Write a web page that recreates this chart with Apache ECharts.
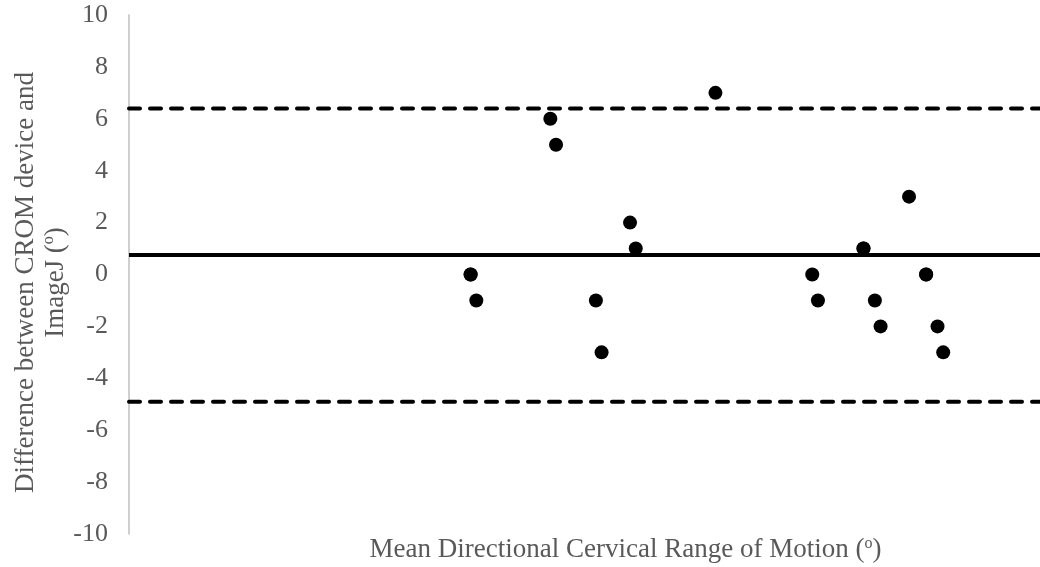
<!DOCTYPE html>
<html>
<head>
<meta charset="utf-8">
<script src="https://cdn.jsdelivr.net/npm/echarts@6/dist/echarts.min.js"></script>
<style>
  html, body { margin: 0; padding: 0; background: #ffffff; }
  #chart { width: 1040px; height: 567px; }
</style>
</head>
<body>
<div id="chart"></div>
<script>
// Bland–Altman agreement: mean ROM (x) vs. CROM − ImageJ difference (y)
const meanRom = [30, 30, 30.5, 37, 37.5, 41, 41.5, 44, 44.5, 51.5, 60, 60.5, 64.5, 64.5, 65.5, 66, 68.5, 70, 70, 71, 71.5];
const difference = [0, 0, -1, 6, 5, -1, -3, 2, 1, 7, 0, -1, 1, 1, -1, -2, 3, 0, 0, -2, -3];
const meanDiff = 0.75;
const upperLoA = 6.4;
const lowerLoA = -4.9;
const xRange = [0, 80];
const yTicks = [-10, -8, -6, -4, -2, 0, 2, 4, 6, 8, 10];

const points = meanRom.map((m, i) => [m, difference[i]]);
const hLine = v => [[xRange[0], v], [xRange[1], v]];

const serif = '"Liberation Serif", "Times New Roman", serif';
const grey = '#595959';
const supStyle = { fontFamily: serif, fontSize: 16, color: grey, verticalAlign: 'top', padding: [0, 0, 8, 0] };

const chart = echarts.init(document.getElementById('chart'));
chart.setOption({
  animation: false,
  grid: { left: 129, right: 0, top: 15, bottom: 33, containLabel: false, outerBoundsMode: 'none' },
  xAxis: {
    type: 'value',
    min: xRange[0],
    max: xRange[1],
    name: 'Mean Directional Cervical Range of Motion ({s|o})',
    nameLocation: 'middle',
    nameGap: 2,
    nameMoveOverlap: false,
    nameTextStyle: {
      fontFamily: serif, fontSize: 27, color: grey,
      padding: [0, 0, 0, 82],
      rich: { s: supStyle }
    },
    axisLine: { show: false },
    axisTick: { show: false },
    axisLabel: { show: false },
    splitLine: { show: false }
  },
  yAxis: {
    type: 'value',
    min: yTicks[0],
    max: yTicks[yTicks.length - 1],
    interval: 2,
    name: 'Difference between CROM device and\nImageJ ({s|o})',
    nameLocation: 'middle',
    nameGap: 58,
    nameMoveOverlap: false,
    nameTextStyle: {
      fontFamily: serif, fontSize: 27, color: grey, lineHeight: 30, align: 'center',
      padding: [0, 16, 0, 0],
      rich: { s: supStyle }
    },
    axisLine: { show: true, lineStyle: { color: '#bfbfbf', width: 1.5 } },
    axisTick: { show: false },
    splitLine: { show: false },
    axisLabel: { fontFamily: serif, fontSize: 26, color: grey, margin: 21 }
  },
  series: [
    {
      type: 'line', data: hLine(upperLoA), symbol: 'none', silent: true,
      lineStyle: { color: '#000', width: 4, type: [11, 10], cap: 'round' }
    },
    {
      type: 'line', data: hLine(lowerLoA), symbol: 'none', silent: true,
      lineStyle: { color: '#000', width: 4, type: [11, 10], cap: 'round' }
    },
    {
      type: 'line', data: hLine(meanDiff), symbol: 'none', silent: true,
      lineStyle: { color: '#000', width: 4 }
    },
    {
      type: 'scatter', data: points, symbol: 'circle', symbolSize: 14,
      itemStyle: { color: '#000', opacity: 1 }
    }
  ]
});
</script>
</body>
</html>
